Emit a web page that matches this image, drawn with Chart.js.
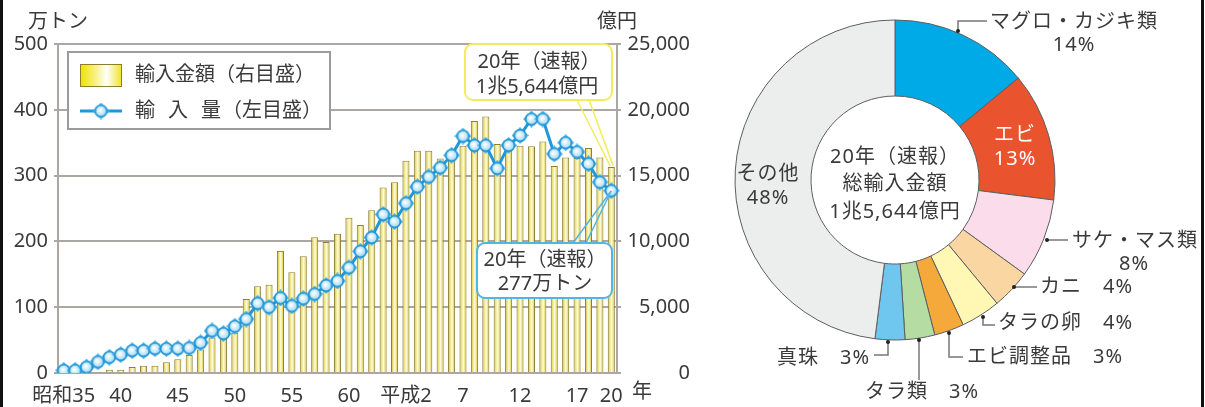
<!DOCTYPE html>
<html>
<head>
<meta charset="utf-8">
<title>水産物の輸入量・輸入金額の推移</title>
<script src="https://cdn.jsdelivr.net/npm/chart.js"></script>
<style>
  body { margin: 0; background: #fff; }
  #wrap { position: relative; width: 1205px; height: 407px; overflow: hidden; }
  #left { position: absolute; left: 0; top: 0; width: 700px; height: 407px; }
  #right { position: absolute; left: 700px; top: 0; width: 505px; height: 407px; }
  .rule { position: absolute; top: 0; width: 3px; height: 407px; background: #111; }
</style>
</head>
<body>
<div id="wrap">
  <div id="left"><canvas id="trend"></canvas></div>
  <div id="right"><canvas id="share"></canvas></div>
  <div class="rule" style="left:0"></div>
  <div class="rule" style="left:1201px"></div>
</div>
<script>
// 年（昭和35年〜平成20年）
const years = ['昭和35','36','37','38','39','40','41','42','43','44','45','46','47','48','49',
  '50','51','52','53','54','55','56','57','58','59','60','61','62','63',
  '平成元','平成2','3','4','5','6','7','8','9','10','11','12','13','14','15','16','17','18','19','20'];
const shownYears = ['昭和35','40','45','50','55','60','平成2','7','12','17','20'];

// 輸入量（万トン）
const importTons = [4,4,9,17,24,28,34,34,37,37,37,38,46,64,60,71,82,106,100,114,
  102,113,120,133,140,160,185,206,241,230,258,283,298,312,331,360,346,346,311,346,
  361,386,386,333,350,336,318,290,277];

// 輸入金額（億円）
const importValue = [40,60,80,100,250,250,450,550,550,820,1040,1370,1780,2700,2600,
  3050,5620,6590,6700,9280,7660,8870,10320,9960,10580,11800,11240,12360,14090,14500,
  16120,16880,16880,16300,16810,17270,19150,19500,17400,17400,17270,17230,17600,15720,
  16380,16340,17100,16380,15644];

// 品目別輸入金額の割合（％）
const itemNames = ['マグロ・カジキ類','エビ','サケ・マス類','カニ','タラの卵','エビ調整品','タラ類','真珠','その他'];
const itemShares = [14,13,8,4,4,3,3,3,48];

const itemColors = ['#00aae7','#e9532d','#fadcea','#fad7a2','#fff7b4','#f5a93b','#b5dca2','#6fc6ef','#eceded'];

const FONT = '"Noto Sans", "Noto Sans CJK JP", sans-serif';
const INK = '#3a3a3a';
const GRID = '#aca7a3';

function yen(v) {
  const cho = Math.floor(v / 10000);
  return (cho ? cho + '兆' : '') + (v % 10000).toLocaleString('en-US') + '億円';
}

// 折れ線のマーカー（ひし形＋丸）
function makeMarker() {
  const c = document.createElement('canvas');
  c.width = 17; c.height = 17;
  const g = c.getContext('2d');
  g.fillStyle = '#4cb0e6';
  g.beginPath();
  g.moveTo(8.5, 0); g.lineTo(17, 8.5); g.lineTo(8.5, 17); g.lineTo(0, 8.5);
  g.closePath(); g.fill();
  const rg = g.createRadialGradient(7.5, 7.5, 0.5, 8.5, 8.5, 6.5);
  rg.addColorStop(0, '#ffffff');
  rg.addColorStop(1, '#92d2f3');
  g.fillStyle = rg;
  g.beginPath(); g.arc(8.5, 8.5, 5.8, 0, Math.PI * 2); g.fill();
  g.strokeStyle = '#1e95d6'; g.lineWidth = 1.6; g.stroke();
  return c;
}
const marker = makeMarker();

// 棒の塗り（左右が濃い黄土色、中央が白っぽい）
function barFill(ctx) {
  const chart = ctx.chart;
  const xs = chart.scales.x;
  if (!chart.chartArea || !xs || ctx.type !== 'data') return '#f2e98a';
  const cx = xs.getPixelForValue(ctx.dataIndex);
  const half = xs.width / years.length * 0.31;
  const g = chart.ctx.createLinearGradient(cx - half, 0, cx + half, 0);
  g.addColorStop(0, '#a6973a');
  g.addColorStop(0.25, '#ece176');
  g.addColorStop(0.55, '#fffbe0');
  g.addColorStop(0.8, '#e9dd70');
  g.addColorStop(1, '#a4953a');
  return g;
}

const trendDecor = {
  id: 'trendDecor',
  afterDatasetsDraw(chart) {
    const c = chart.ctx;
    c.save();
    c.font = '20px ' + FONT;
    c.fillStyle = INK;
    c.textBaseline = 'middle';
    c.textAlign = 'left';
    c.fillText('万トン', 28, 22);
    c.fillText('億円', 597, 22);
    c.fillText('年', 632, 392);

    // 凡例
    c.fillStyle = '#fff';
    c.fillRect(68, 52, 262, 77);
    c.strokeStyle = '#9b9b9b';
    c.lineWidth = 2;
    c.strokeRect(68, 52, 262, 77);
    const sw = c.createLinearGradient(80, 0, 121, 0);
    sw.addColorStop(0, '#efe100');
    sw.addColorStop(0.35, '#f7f07a');
    sw.addColorStop(0.65, '#ffffff');
    sw.addColorStop(1, '#f0e430');
    c.fillStyle = sw;
    c.fillRect(80, 64, 41, 22);
    c.strokeStyle = '#8d7f2a';
    c.lineWidth = 1;
    c.strokeRect(80.5, 64.5, 41, 22);
    c.strokeStyle = '#1e98d8';
    c.lineWidth = 3;
    c.beginPath(); c.moveTo(80, 111); c.lineTo(122, 111); c.stroke();
    c.drawImage(marker, 101 - 8.5, 111 - 8.5);
    c.fillStyle = INK;
    c.fillText('輸入金額（右目盛）', 135, 75);
    c.fillText('輸', 135, 111);
    c.fillText('入', 168, 111);
    c.fillText('量', 201, 111);
    c.fillText('（左目盛）', 222, 111);

    const n = years.length - 1;
    const bar = chart.getDatasetMeta(1).data[n];
    const pt = chart.getDatasetMeta(0).data[n];

    // 輸入金額の吹き出し
    c.strokeStyle = '#f4ec5c';
    c.lineWidth = 1.5;
    c.beginPath();
    c.moveTo(577, 100); c.lineTo(bar.x - 1, bar.y - 1);
    c.moveTo(589, 100); c.lineTo(bar.x + 2, bar.y - 1);
    c.stroke();
    c.fillStyle = '#fff';
    c.lineWidth = 2;
    c.beginPath(); c.roundRect(465, 44, 147, 56, 8); c.fill(); c.stroke();

    // 輸入量の吹き出し
    c.strokeStyle = '#4fb6e6';
    c.lineWidth = 1.5;
    c.beginPath();
    c.moveTo(pt.x, pt.y); c.lineTo(573, 243);
    c.moveTo(pt.x, pt.y); c.lineTo(586, 243);
    c.stroke();
    c.lineWidth = 2;
    c.beginPath(); c.roundRect(477, 243, 135, 55, 8); c.fill(); c.stroke();

    c.fillStyle = INK;
    c.textAlign = 'center';
    c.fillText('20年（速報）', 539, 62);
    c.fillText(yen(importValue[n]), 537, 87);
    c.fillText('20年（速報）', 545, 260);
    c.fillText(importTons[n] + '万トン', 545, 284);
    c.restore();
  }
};

const tickFont = { family: FONT, size: 20 };

new Chart(document.getElementById('trend'), {
  type: 'bar',
  data: {
    labels: years,
    datasets: [
      {
        type: 'line',
        label: '輸入量（左目盛）',
        data: importTons,
        yAxisID: 'y',
        borderColor: '#1e98d8',
        borderWidth: 3,
        pointStyle: marker,
        pointRadius: 8,
        tension: 0,
        order: 0
      },
      {
        type: 'bar',
        label: '輸入金額（右目盛）',
        data: importValue,
        yAxisID: 'y1',
        backgroundColor: barFill,
        borderColor: '#8e8030',
        borderWidth: { top: 1, left: 1, right: 1, bottom: 0 },
        borderSkipped: false,
        barPercentage: 0.62,
        categoryPercentage: 1,
        order: 1
      }
    ]
  },
  options: {
    responsive: true,
    maintainAspectRatio: false,
    animation: false,
    layout: { padding: { top: 44, left: 0, right: 10, bottom: 0 } },
    plugins: { legend: { display: false }, tooltip: { enabled: false } },
    scales: {
      x: {
        offset: true,
        grid: { display: false },
        border: { display: true, color: GRID, width: 2 },
        ticks: {
          autoSkip: false, maxRotation: 0, padding: 3, color: INK, font: tickFont,
          callback(v, i) { return shownYears.includes(years[i]) ? years[i] : ''; }
        },
        afterFit(s) { s.height = 34; }
      },
      y: {
        position: 'left', min: 0, max: 500,
        ticks: { stepSize: 100, padding: 6, color: INK, font: tickFont },
        grid: { color: GRID, lineWidth: 2, tickLength: 4 },
        border: { color: GRID, width: 2 },
        afterFit(s) { s.width = 58; }
      },
      y1: {
        position: 'right', min: 0, max: 25000,
        ticks: {
          stepSize: 5000, padding: 4, crossAlign: 'far', color: INK, font: tickFont,
          callback: v => v.toLocaleString('en-US')
        },
        grid: { drawOnChartArea: false, color: GRID, lineWidth: 2, tickLength: 4 },
        border: { color: GRID, width: 2 },
        afterFit(s) { s.width = 73; }
      }
    }
  },
  plugins: [trendDecor]
});

// 円グラフのラベル位置と引き出し線
const shareLayout = [
  { name: [290, 22, 'left'], pct: [374, 45, 'center'], leader: [[258, 31], [258, 21], [287, 21]] },
  { name: [315, 135, 'center'], pct: [315, 159, 'center'], color: '#fff' },
  { name: [372, 241, 'left'], pct: [434, 264, 'center'], leader: [[347, 240], [368, 240]] },
  { joined: [340, 287, 'left'], leader: [[314, 287], [337, 287]] },
  { joined: [298, 323, 'left'], leader: [[283, 317], [283, 325], [295, 325]] },
  { joined: [267, 357, 'left'], leader: [[249, 333], [249, 357], [263, 357]] },
  { joined: [165, 392, 'left'], leader: [[219, 340], [219, 380]] },
  { joined: [170, 358, 'right'], leader: [[188, 342], [188, 355], [174, 355]] },
  { name: [68, 174, 'center'], pct: [68, 198, 'center'] }
];

const shareLabels = {
  id: 'shareLabels',
  afterDatasetsDraw(chart) {
    const c = chart.ctx;
    c.save();
    c.font = '20px ' + FONT;
    c.textBaseline = 'middle';
    c.letterSpacing = '1px';
    shareLayout.forEach((l, i) => {
      const pct = itemShares[i] + '%';
      if (l.leader) {
        c.strokeStyle = '#777';
        c.lineWidth = 1.5;
        c.beginPath();
        l.leader.forEach(([x, y], k) => k ? c.lineTo(x, y) : c.moveTo(x, y));
        c.stroke();
        c.fillStyle = '#222';
        c.beginPath(); c.arc(l.leader[0][0], l.leader[0][1], 2, 0, Math.PI * 2); c.fill();
      }
      c.fillStyle = l.color || INK;
      if (l.joined) {
        c.textAlign = l.joined[2];
        c.fillText(itemNames[i] + '　' + pct, l.joined[0], l.joined[1]);
      } else {
        c.textAlign = l.name[2];
        c.fillText(itemNames[i], l.name[0], l.name[1]);
        c.textAlign = l.pct[2];
        c.fillText(pct, l.pct[0], l.pct[1]);
      }
    });
    const m = chart.getDatasetMeta(0).data[0];
    c.fillStyle = INK;
    c.textAlign = 'center';
    c.fillText('20年（速報）', m.x, 157);
    c.fillText('総輸入金額', m.x, 184);
    c.fillText(yen(importValue[importValue.length - 1]), m.x, 212);
    c.restore();
  }
};

new Chart(document.getElementById('share'), {
  type: 'doughnut',
  data: {
    labels: itemNames,
    datasets: [{
      data: itemShares,
      backgroundColor: itemColors,
      borderColor: '#5e5e5e',
      borderWidth: 1
    }]
  },
  options: {
    responsive: true,
    maintainAspectRatio: false,
    animation: false,
    radius: 160,
    cutout: '52.5%',
    layout: { padding: { left: 0, right: 115, top: 0, bottom: 47 } },
    plugins: { legend: { display: false }, tooltip: { enabled: false } }
  },
  plugins: [shareLabels]
});
</script>
</body>
</html>
